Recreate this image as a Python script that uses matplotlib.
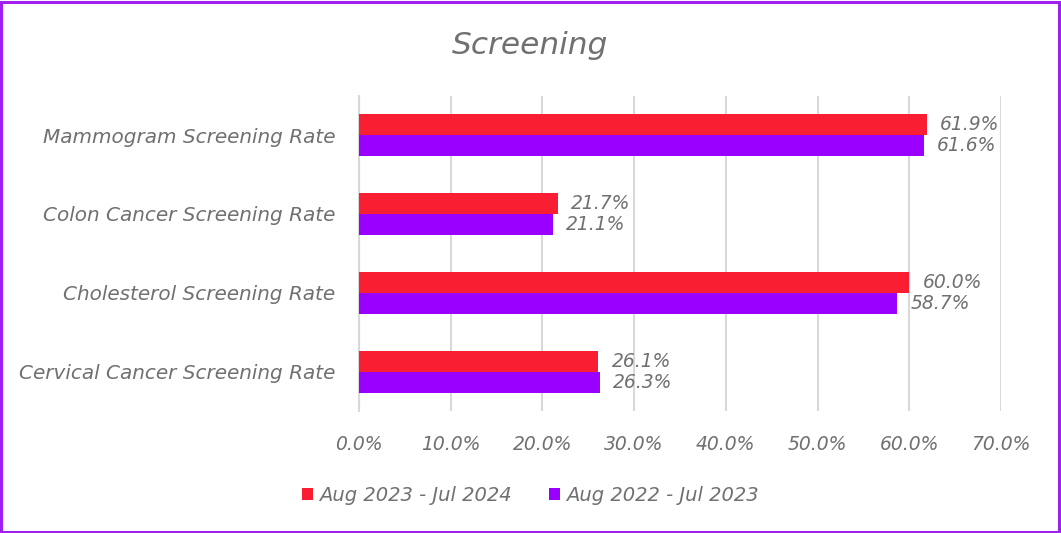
import matplotlib
matplotlib.use("Agg")
import matplotlib.pyplot as plt
from matplotlib.patches import Rectangle

categories = ["Mammogram Screening Rate", "Colon Cancer Screening Rate",
              "Cholesterol Screening Rate", "Cervical Cancer Screening Rate"]
series_2024 = [61.9, 21.7, 60.0, 26.1]
series_2023 = [61.6, 21.1, 58.7, 26.3]
series_names = ["Aug 2023 - Jul 2024", "Aug 2022 - Jul 2023"]
xticks = [0, 10, 20, 30, 40, 50, 60, 70]

RED = "#FA1E32"
PURPLE = "#9900FF"
TXT = "#707070"
FONT = "DejaVu Sans"
FS_NUM = 13.5
FS_TXT = 14.4

fig = plt.figure(figsize=(10.61, 5.33), dpi=100)
fig.patches.append(Rectangle((0.001, 0.002), 0.997, 0.995, transform=fig.transFigure,
                             fill=False, edgecolor="#A020F0", linewidth=2.2))
ax = fig.add_axes([0.3384, 0.228, 0.6050, 0.5928])

n = len(categories)
ys = list(range(n))
h = 0.26
b1 = ax.barh([y - h / 2 for y in ys], series_2024, height=h, color=RED, label=series_names[0], zorder=3)
b2 = ax.barh([y + h / 2 for y in ys], series_2023, height=h, color=PURPLE, label=series_names[1], zorder=3)

for bars, vals in ((b1, series_2024), (b2, series_2023)):
    for rect, v in zip(bars, vals):
        ax.annotate(f"{v:.1f}%", (rect.get_width(), rect.get_y() + rect.get_height() / 2),
                    xytext=(9.5, 0), textcoords="offset points", va="center", ha="left",
                    fontsize=FS_NUM, color=TXT, family=FONT, style="italic")

ax.set_ylim(n - 0.5, -0.5)
ax.set_xlim(0, 70)
ax.set_yticks(ys)
ax.set_yticklabels(categories, fontsize=FS_TXT, color=TXT, family=FONT, style="italic")
ax.set_xticks(xticks)
ax.set_xticklabels([f"{t:.1f}%" for t in xticks], fontsize=FS_NUM, color=TXT, family=FONT, style="italic")
ax.tick_params(axis="y", length=0, pad=17)
ax.tick_params(axis="x", length=0, pad=17)
ax.grid(axis="x", color="#D9D9D9", linewidth=1.5, zorder=0)
for s in ("top", "right", "bottom"):
    ax.spines[s].set_visible(False)
ax.spines["left"].set_color("#D9D9D9")
ax.spines["left"].set_linewidth(1.5)

fig.text(0.5, 0.915, "Screening", ha="center", va="center", fontsize=22.5, color=TXT,
         family=FONT, style="italic")

leg = fig.legend(handles=[b1, b2], labels=series_names, loc="center", bbox_to_anchor=(0.5, 0.07),
                 ncol=2, frameon=False, handlelength=0.55, handleheight=0.55, handletextpad=0.35,
                 columnspacing=1.9, prop={"family": FONT, "style": "italic", "size": 14})
for t in leg.get_texts():
    t.set_color(TXT)

fig.savefig("out.png", dpi=100)
